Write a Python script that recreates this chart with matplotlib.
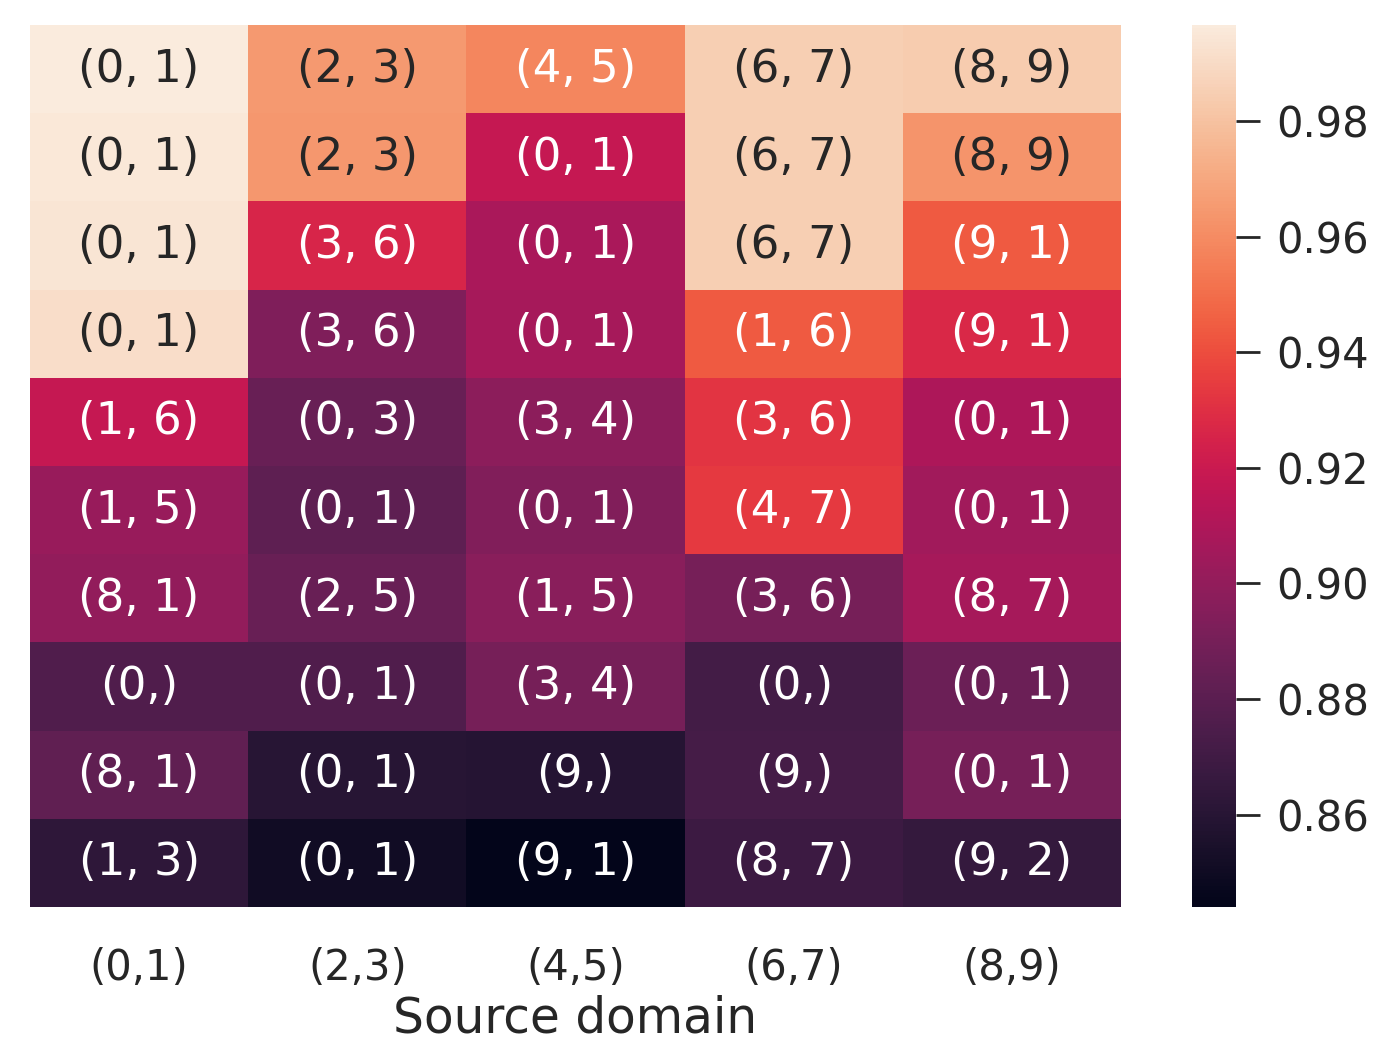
import numpy as np
import matplotlib
matplotlib.use("Agg")
import matplotlib.pyplot as plt
import seaborn as sns

source_domains = ["(0,1)", "(2,3)", "(4,5)", "(6,7)", "(8,9)"]

# cell labels, row by row (10 rows x 5 source domains)
labels = [
    ["(0, 1)", "(2, 3)", "(4, 5)", "(6, 7)", "(8, 9)"],
    ["(0, 1)", "(2, 3)", "(0, 1)", "(6, 7)", "(8, 9)"],
    ["(0, 1)", "(3, 6)", "(0, 1)", "(6, 7)", "(9, 1)"],
    ["(0, 1)", "(3, 6)", "(0, 1)", "(1, 6)", "(9, 1)"],
    ["(1, 6)", "(0, 3)", "(3, 4)", "(3, 6)", "(0, 1)"],
    ["(1, 5)", "(0, 1)", "(0, 1)", "(4, 7)", "(0, 1)"],
    ["(8, 1)", "(2, 5)", "(1, 5)", "(3, 6)", "(8, 7)"],
    ["(0,)", "(0, 1)", "(3, 4)", "(0,)", "(0, 1)"],
    ["(8, 1)", "(0, 1)", "(9,)", "(9,)", "(0, 1)"],
    ["(1, 3)", "(0, 1)", "(9, 1)", "(8, 7)", "(9, 2)"],
]

# estimated cell values, row by row
values = [
    [0.9966, 0.965, 0.958, 0.985, 0.984],
    [0.995, 0.964, 0.918, 0.985, 0.963],
    [0.994, 0.926, 0.908, 0.985, 0.944],
    [0.991, 0.893, 0.907, 0.944, 0.927],
    [0.918, 0.885, 0.898, 0.932, 0.909],
    [0.902, 0.881, 0.894, 0.934, 0.905],
    [0.900, 0.885, 0.897, 0.890, 0.907],
    [0.876, 0.876, 0.890, 0.871, 0.886],
    [0.882, 0.860, 0.859, 0.872, 0.890],
    [0.863, 0.851, 0.844, 0.868, 0.865],
]

cbar_ticks = [0.86, 0.88, 0.90, 0.92, 0.94, 0.96, 0.98]
dark_text_above = 0.961

plt.rcParams["font.family"] = ["DejaVu Sans"]
plt.rcParams["text.color"] = "#262626"
plt.rcParams["xtick.color"] = "#262626"
plt.rcParams["ytick.color"] = "#262626"
plt.rcParams["axes.labelcolor"] = "#262626"

W, H = 1376, 1051
fig = plt.figure(figsize=(W / 100, H / 100), dpi=100)
ax = fig.add_axes([30 / W, (H - 907) / H, (1121 - 30) / W, (907 - 25) / H])
cax = fig.add_axes([1192 / W, (H - 907) / H, 44 / W, (907 - 25) / H])

data = np.array(values)
sns.heatmap(data, ax=ax, cbar_ax=cax, cmap="rocket", annot=False,
            xticklabels=source_domains, yticklabels=False,
            cbar_kws={"ticks": cbar_ticks})

nrows, ncols = data.shape
for i in range(nrows):
    for j in range(ncols):
        col = "#262626" if data[i, j] > dark_text_above else "white"
        ax.text(j + 0.5, i + 0.5, labels[i][j], ha="center", va="center",
                fontsize=32.5, color=col)

ax.set_xlabel("Source domain", fontsize=35, labelpad=4)
ax.tick_params(axis="x", length=0, pad=29, labelsize=30)
ax.tick_params(axis="y", length=0)

cax.tick_params(labelsize=30, length=17, width=2, pad=12, color="#262626")
cax.set_yticklabels([f"{t:.2f}" for t in cbar_ticks])
cax.yaxis.set_ticks_position("right")
for s in cax.spines.values():
    s.set_visible(False)

fig.savefig("out.png", dpi=100)
